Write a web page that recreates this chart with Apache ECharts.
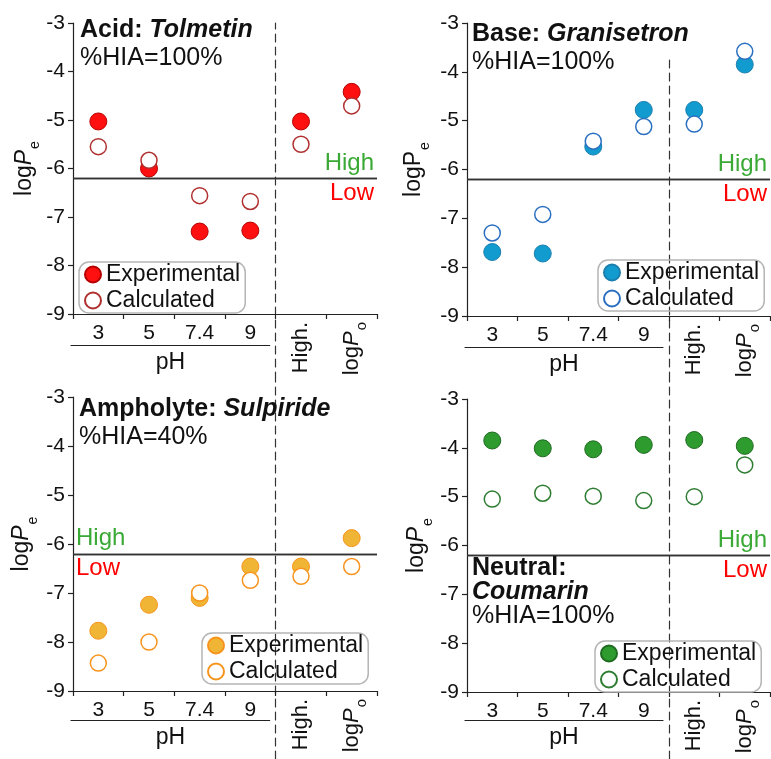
<!DOCTYPE html>
<html><head><meta charset="utf-8">
<script src="https://cdn.jsdelivr.net/npm/echarts@6/dist/echarts.min.js"></script>
<style>html,body{margin:0;padding:0;background:#fff}#c{width:771px;height:759px}</style>
</head><body><div id="c"></div>
<script>
// ---- data ----
const categories = ['3', '5', '7.4', '9', 'High.', 'logPo'];
const tolmetinExp = [-5.03, -6.0, -7.3, -7.28, -5.03, -4.42];
const tolmetinCalc = [-5.55, -5.83, -6.56, -6.68, -5.5, -4.71];
const granisetronExp = [-7.69, -7.72, -5.53, -4.78, -4.78, -3.85];
const granisetronCalc = [-7.3, -6.92, -5.42, -5.12, -5.07, -3.58];
const sulpirideExp = [-7.77, -7.24, -7.1, -6.46, -6.46, -5.88];
const sulpirideCalc = [-8.43, -8.0, -7.0, -6.74, -6.66, -6.46];
const coumarinExp = [-3.85, -4.01, -4.03, -3.94, -3.84, -3.96];
const coumarinCalc = [-5.05, -4.93, -4.99, -5.08, -5.0, -4.35];
const yMin = -9, yMax = -3, yStep = 1;
const threshold = -6.2;
const legendNames = ['Experimental', 'Calculated'];

const FONT = '"Liberation Sans", Arial, sans-serif';

const panels = [
  { exp: tolmetinExp, calc: tolmetinCalc, fill: '#ff1010', border: '#b50000', calcBorder: '#b03030',
    title: '{b|Acid: }{bi|Tolmetin}\n{n|%HIA=100%}', titleLH: 28,
    left: 73, top: 23, width: 304, height: 291, dashTop: 23, dashBottom: 380, phLine: 345,
    nameGap: 30, italicP: true, titleLeft: 80, titleTop: 16, legendLeft: 79, legendTop: 262, hl: 'End' },
  { exp: granisetronExp, calc: granisetronCalc, fill: '#119bcf', border: '#1b7fae', calcBorder: '#2a6fc0',
    title: '{b|Base: }{bi|Granisetron}\n{n|%HIA=100%}', titleLH: 28,
    left: 467, top: 23, width: 303, height: 293, dashTop: 60, dashBottom: 380, phLine: 347,
    nameGap: 35, italicP: false, titleLeft: 472, titleTop: 20, legendLeft: 598, legendTop: 260, hl: 'End' },
  { exp: sulpirideExp, calc: sulpirideCalc, fill: '#f1b535', border: '#f7941d', calcBorder: '#f7941d',
    title: '{b|Ampholyte: }{bi|Sulpiride}\n{n|%HIA=40%}', titleLH: 28,
    left: 73, top: 397, width: 304, height: 294, dashTop: 380, dashBottom: 759, phLine: 720,
    nameGap: 33, italicP: true, titleLeft: 79, titleTop: 395, legendLeft: 202, legendTop: 633, hl: 'Start' },
  { exp: coumarinExp, calc: coumarinCalc, fill: '#2e9b2e', border: '#1f6b22', calcBorder: '#2e7d32',
    title: '{b|Neutral:}\n{bi|Coumarin}\n{n|%HIA=100%}', titleLH: 24,
    left: 467, top: 399, width: 303, height: 293, dashTop: 380, dashBottom: 759, phLine: 720,
    nameGap: 32, italicP: true, titleLeft: 472, titleTop: 556, legendLeft: 595, legendTop: 641, hl: 'End' }
];

const option = { animation: false, grid: [], xAxis: [], yAxis: [], series: [], title: [], legend: [] };
const axisColor = '#222';

panels.forEach((p, k) => {
  const g0 = option.grid.length;
  const phWidth = p.width * 4 / categories.length;
  option.grid.push({ left: p.left, top: p.top, width: p.width, height: p.height });
  option.grid.push({ left: p.left, top: p.dashTop, width: phWidth, height: p.dashBottom - p.dashTop });
  option.grid.push({ left: p.left - 2, top: p.top, width: phWidth - 4, height: p.phLine - p.top });

  const x0 = option.xAxis.length;
  option.xAxis.push({
    gridIndex: g0, type: 'category', data: categories, position: 'bottom', boundaryGap: true,
    axisLine: { onZero: false, lineStyle: { color: axisColor, width: 1.2 } },
    axisTick: { show: true, interval: 0, length: 5, lineStyle: { color: axisColor, width: 1.2 } },
    axisLabel: { interval: 0, margin: 9, fontSize: 21, color: '#111', fontFamily: FONT,
      formatter: (v, i) => (i < 4 ? v : '') },
    splitLine: { show: false }
  });
  option.xAxis.push({
    gridIndex: g0, type: 'category', data: categories, position: 'bottom', boundaryGap: true,
    axisLine: { show: false }, axisTick: { show: false }, splitLine: { show: false },
    axisLabel: { interval: 0, rotate: 90, margin: 8, color: '#111', fontFamily: FONT,
      formatter: (v, i) => (i === 4 ? '{n|' + v + '}' : i === 5 ? '{n|log}{i|P}{s|o}' : ''),
      rich: {
        n: { fontSize: 22, fontFamily: FONT, color: '#111' },
        i: { fontSize: 22, fontFamily: FONT, fontStyle: 'italic', color: '#111' },
        s: { fontSize: 15, fontFamily: FONT, color: '#111', padding: [20, 0, 0, 1] }
      } }
  });
  option.xAxis.push({ gridIndex: g0 + 1, type: 'category', data: [''], show: false });
  option.xAxis.push({
    gridIndex: g0 + 2, type: 'category', data: [''], position: 'bottom',
    axisLine: { onZero: false, lineStyle: { color: axisColor, width: 1.2 } },
    axisTick: { show: false }, axisLabel: { show: false }, splitLine: { show: false },
    name: 'pH', nameLocation: 'middle', nameGap: 6,
    nameTextStyle: { fontSize: 23, color: '#111', fontFamily: FONT }
  });

  const y0 = option.yAxis.length;
  option.yAxis.push({
    gridIndex: g0, type: 'value', min: yMin, max: yMax, interval: yStep,
    axisLine: { show: true, onZero: false, lineStyle: { color: axisColor, width: 1.2 } },
    axisTick: { show: true, length: 5, lineStyle: { color: axisColor, width: 1.2 } },
    axisLabel: { fontSize: 21, margin: 8, color: '#111', fontFamily: FONT },
    splitLine: { show: false },
    name: p.italicP ? '{n|log}{i|P}{s|e}' : '{n|logP}{s|e}',
    nameLocation: 'middle', nameGap: p.nameGap,
    nameTextStyle: {
      rich: {
        n: { fontSize: 23, fontFamily: FONT, color: '#111' },
        i: { fontSize: 23, fontFamily: FONT, fontStyle: 'italic', color: '#111' },
        s: { fontSize: 14, fontFamily: FONT, color: '#111', padding: [22, 0, 0, 1] }
      }
    }
  });
  option.yAxis.push({
    gridIndex: g0 + 1, type: 'value', min: 0, max: 1, position: 'right',
    axisLine: { show: true, onZero: false, lineStyle: { color: '#333', width: 1.2, type: [8, 5] } },
    axisTick: { show: false }, axisLabel: { show: false }, splitLine: { show: false }
  });
  option.yAxis.push({ gridIndex: g0 + 2, type: 'value', min: 0, max: 1, show: false });

  const hlLabel = (txt, color, vpos) => ({
    show: true, formatter: txt, position: 'inside' + p.hl + vpos, distance: 3,
    fontSize: 24, color: color, fontFamily: FONT
  });

  option.series.push({
    type: 'scatter', name: legendNames[0] + '#' + k, xAxisIndex: x0, yAxisIndex: y0,
    data: p.exp.map((v, i) => [categories[i], v]),
    symbol: 'circle', symbolSize: 17, z: 3,
    itemStyle: { color: p.fill, borderColor: p.border, borderWidth: 1, opacity: 1 },
    markLine: {
      silent: true, symbol: ['none', 'none'], animation: false,
      lineStyle: { color: '#333', width: 1.3, type: 'solid' },
      data: [
        { yAxis: threshold, label: hlLabel('High', '#3aa935', 'Top') },
        { yAxis: threshold, label: hlLabel('Low', '#ff0000', 'Bottom') }
      ]
    }
  });
  option.series.push({
    type: 'scatter', name: legendNames[1] + '#' + k, xAxisIndex: x0, yAxisIndex: y0,
    data: p.calc.map((v, i) => [categories[i], v]),
    symbol: 'circle', symbolSize: 16, z: 4,
    itemStyle: { color: '#ffffff', borderColor: p.calcBorder, borderWidth: 1.5, opacity: 1 }
  });

  option.title.push({
    left: p.titleLeft, top: p.titleTop, padding: 0, text: p.title,
    textStyle: {
      fontWeight: 'normal',
      rich: {
        b: { fontSize: 25, fontWeight: 'bold', fontFamily: FONT, color: '#111', lineHeight: p.titleLH },
        bi: { fontSize: 25, fontWeight: 'bold', fontStyle: 'italic', fontFamily: FONT, color: '#111', lineHeight: p.titleLH },
        n: { fontSize: 25, fontWeight: 'normal', fontFamily: FONT, color: '#111', lineHeight: p.titleLH }
      }
    }
  });

  option.legend.push({
    left: p.legendLeft, top: p.legendTop, orient: 'vertical', selectedMode: false,
    data: legendNames.map(n => n + '#' + k),
    formatter: n => n.split('#')[0],
    icon: 'circle', itemWidth: 16, itemHeight: 16, itemGap: 3,
    padding: [1, 5, 1, 5], borderColor: '#b5b5b5', borderWidth: 1.5, borderRadius: 10,
    textStyle: { fontSize: 23, color: '#111', fontFamily: FONT }
  });
});

const chart = echarts.init(document.getElementById('c'), null, { renderer: 'canvas' });
chart.setOption(option);
</script>
</body></html>
